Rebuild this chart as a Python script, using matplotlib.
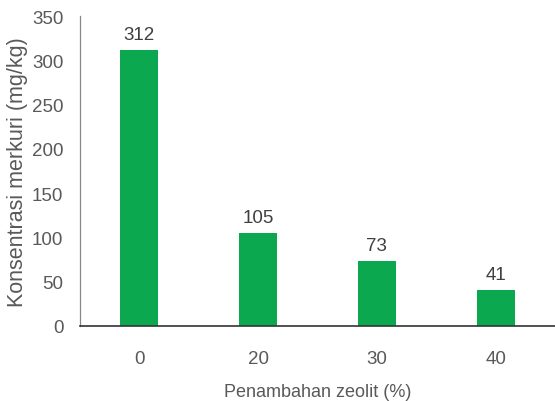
import matplotlib
matplotlib.use("Agg")
import matplotlib.pyplot as plt
from matplotlib import font_manager

categories = ["0", "20", "30", "40"]
values = [312, 105, 73, 41]
yticks = [0, 50, 100, 150, 200, 250, 300, 350]

names = {f.name for f in font_manager.fontManager.ttflist}
fam = "Liberation Sans Narrow" if "Liberation Sans Narrow" in names else "Liberation Sans"
plt.rcParams['font.family'] = [fam, 'DejaVu Sans']

fig = plt.figure(figsize=(5.55, 4.02), dpi=100)
ax = fig.add_axes([80/555, 1 - 327/402, 475/555, 310/402])
x = list(range(len(categories)))
bars = ax.bar(x, values, width=0.32, color="#0BA84F")
ax.set_xlim(-0.5, 3.5)
ax.set_ylim(0, 350)
ax.set_yticks(yticks)
ax.set_xticks(x)
ax.set_xticklabels(categories)
gray = "#595959"
ax.tick_params(axis='both', length=0, colors=gray, labelsize=13.5)
ax.tick_params(axis='x', pad=17)
ax.tick_params(axis='y', pad=12)
for s in ['top', 'right']:
    ax.spines[s].set_visible(False)
ax.spines['left'].set_color('#888888')
ax.spines['left'].set_linewidth(0.9)
ax.spines['bottom'].set_color('#333333')
ax.spines['bottom'].set_linewidth(1.2)
for xi, v in zip(x, values):
    ax.annotate(str(v), (xi, v), xytext=(0, 5), textcoords='offset points',
                ha='center', va='bottom', color="#404040", fontsize=13.5)
ax.set_xlabel("Penambahan zeolit (%)", color=gray, fontsize=13, labelpad=12)
ax.set_ylabel("Konsentrasi merkuri (mg/kg)", color=gray, fontsize=15.5, labelpad=3)
fig.savefig("out.png", dpi=100)
